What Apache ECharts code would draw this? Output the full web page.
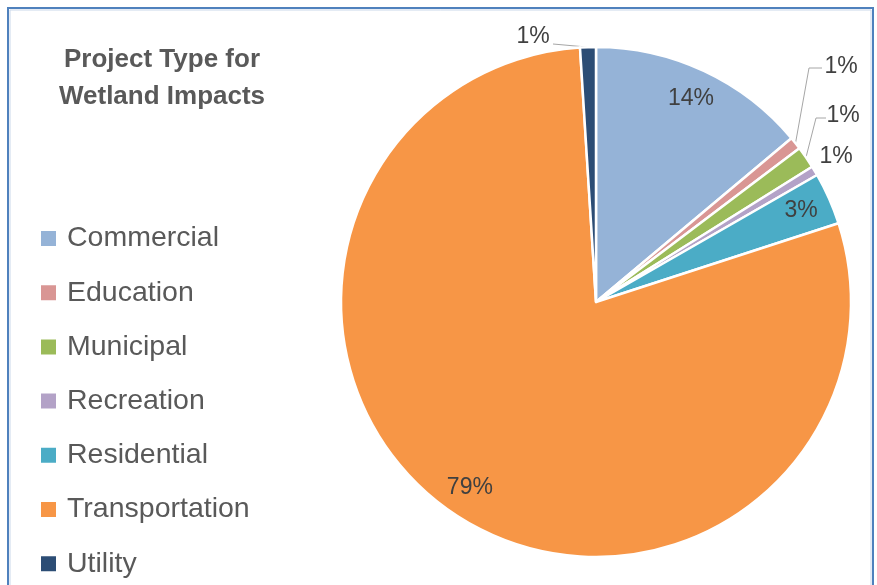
<!DOCTYPE html>
<html>
<head>
<meta charset="utf-8">
<script src="https://cdn.jsdelivr.net/npm/echarts@6/dist/echarts.min.js"></script>
<style>
  html, body { margin: 0; padding: 0; background: #fff; }
  #chart { width: 877px; height: 585px; }
</style>
</head>
<body>
<div id="chart"></div>
<script>
// share of wetland impacts by project type (%)
const categories = ['Commercial', 'Education', 'Municipal', 'Recreation', 'Residential', 'Transportation', 'Utility']
const shares = [13.9, 0.8, 1.4, 0.6, 3.3, 79.0, 1.0]
const colors = ['#95B3D7', '#D99694', '#9BBB59', '#B3A2C7', '#4BACC6', '#F79646', '#2C4D75']

const textColor = '#595959'
const font = 'Liberation Sans'
const pieCx = 596
const pieCy = 302
const pieR = 255

// labels that sit inside their slice (pushed out toward the rim like Excel does)
const insideIdx = [0, 4, 5]
// outside labels: where the text sits and the bend of the leader line
const outsideSpots = {
  1: { x: 841, y: 67, bend: [[809, 68], [822, 68]] },
  2: { x: 843, y: 116, bend: [[816, 118], [826, 118]] },
  3: { x: 836, y: 157, bend: null },
  6: { x: 533, y: 37, bend: [[553, 44]] },
}

// mid-angle of each slice, clockwise from 12 o'clock
const total = shares.reduce((a, b) => a + b, 0)
const midAngles = []
let acc = 0
shares.forEach(v => {
  midAngles.push(((acc + v / 2) / total) * Math.PI * 2)
  acc += v
})

const chart = echarts.init(document.getElementById('chart'))

const option = {
  backgroundColor: '#fff',
  animation: false,
  color: colors,
  title: {
    text: 'Project Type for\nWetland Impacts',
    left: 157,
    top: 36,
    textAlign: 'center',
    textStyle: {
      fontFamily: font,
      fontWeight: 'bold',
      fontSize: 26,
      lineHeight: 37,
      color: textColor,
    },
  },
  legend: {
    orient: 'vertical',
    left: 34,
    top: 219,
    height: 420,
    itemWidth: 17,
    itemHeight: 17,
    itemGap: 25.2,
    icon: 'rect',
    textStyle: {
      fontFamily: font,
      fontSize: 28.5,
      lineHeight: 28,
      color: textColor,
      padding: [0, 0, 0, 5],
    },
    data: categories,
  },
  graphic: [
    {
      type: 'rect',
      shape: { x: 8, y: 8, width: 865, height: 620 },
      style: { fill: 'none', stroke: '#4F81BD', lineWidth: 2 },
      silent: true,
    },
    {
      type: 'rect',
      shape: { x: 10, y: 10, width: 861, height: 620 },
      style: { fill: 'none', stroke: '#c9d7ea', lineWidth: 1 },
      silent: true,
    },
  ],
  series: [
    {
      type: 'pie',
      center: [pieCx, pieCy],
      radius: pieR,
      startAngle: 90,
      clockwise: true,
      avoidLabelOverlap: false,
      itemStyle: { borderColor: '#fff', borderWidth: 2.5 },
      label: {
        show: true,
        position: 'outside',
        fontFamily: font,
        fontSize: 23,
        color: '#404040',
        formatter: p => Math.round(p.percent) + '%',
      },
      labelLine: {
        show: true,
        length: 10,
        length2: 10,
        lineStyle: { color: '#a6a6a6', width: 1 },
      },
      labelLayout: p => {
        const i = p.dataIndex
        const a = midAngles[i]
        if (insideIdx.indexOf(i) >= 0) {
          const k = 0.88 * pieR
          return {
            x: pieCx + k * Math.sin(a),
            y: pieCy - k * Math.cos(a),
            align: 'center',
            verticalAlign: 'middle',
          }
        }
        const spot = outsideSpots[i]
        const edge = [pieCx + pieR * Math.sin(a), pieCy - pieR * Math.cos(a)]
        const out = { x: spot.x, y: spot.y, align: 'center', verticalAlign: 'middle' }
        if (spot.bend) {
          out.labelLinePoints = [edge].concat(spot.bend)
        } else {
          out.labelLinePoints = [edge, edge, edge]
        }
        return out
      },
      data: categories.map((name, i) => ({
        name: name,
        value: shares[i],
        label: insideIdx.indexOf(i) >= 0 ? { position: 'inside' } : {},
        labelLine: { show: insideIdx.indexOf(i) < 0 && outsideSpots[i].bend !== null },
      })),
    },
  ],
}

chart.setOption(option)
</script>
</body>
</html>
